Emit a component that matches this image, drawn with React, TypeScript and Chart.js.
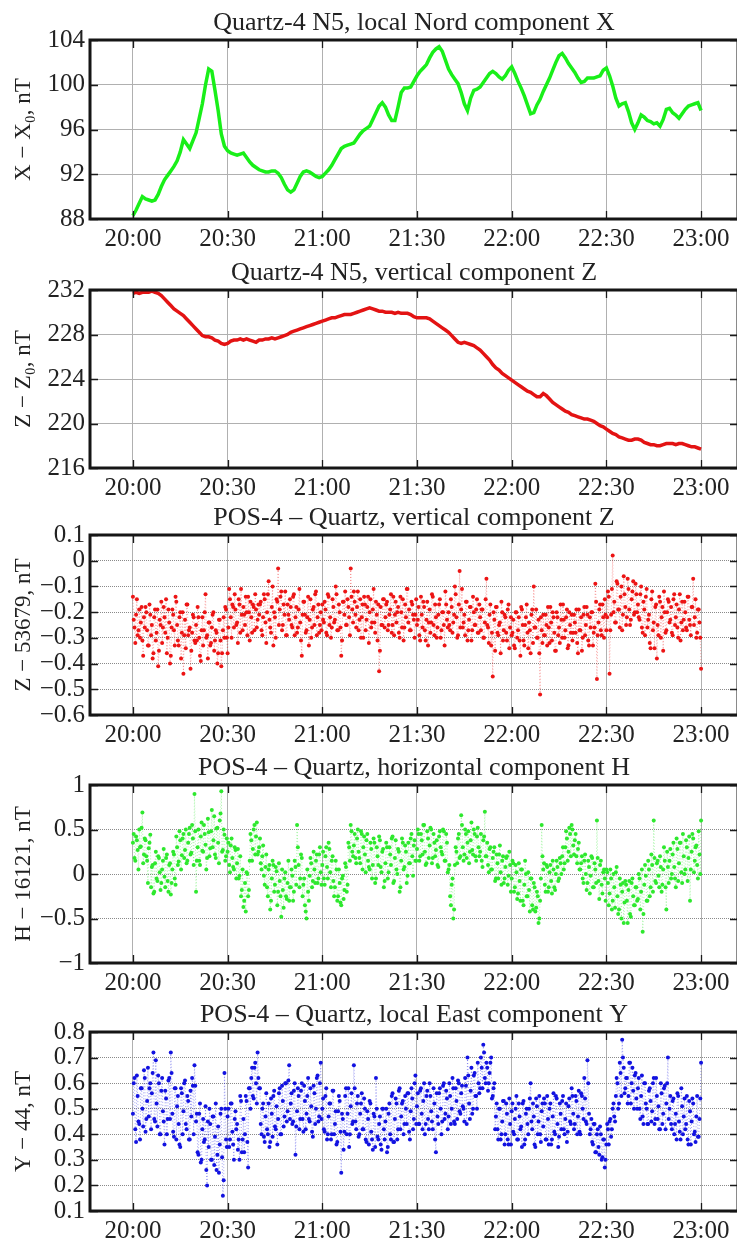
import React, { useEffect, useRef } from 'react';
import { Chart, registerables } from 'chart.js';
Chart.register(...registerables);

const FONT = '"Liberation Serif", "Times New Roman", "DejaVu Serif", serif';

// ---- time axis (minutes after 20:00) ----
const X_TICK_MINUTES = [0, 30, 60, 90, 120, 150, 180];
const X_TICK_LABELS = ['20:00', '20:30', '21:00', '21:30', '22:00', '22:30', '23:00'];

// ---- panel 1: Quartz-4 N5, X (one value per minute, 20:00..23:00) ----
const quartzX = [
  88.3, 88.8, 89.4, 90.0, 89.8, 89.7, 89.6, 89.7, 90.2, 90.9,
  91.5, 91.9, 92.3, 92.7, 93.2, 94.0, 95.1, 94.7, 94.3, 95.0,
  95.7, 97.0, 98.3, 100.0, 101.4, 101.2, 99.5, 97.7, 95.6, 94.5,
  94.1, 93.9, 93.8, 93.7, 93.8, 93.9, 93.5, 93.1, 92.8, 92.6,
  92.4, 92.3, 92.2, 92.2, 92.3, 92.3, 92.1, 91.7, 91.1, 90.6,
  90.4, 90.6, 91.2, 91.8, 92.2, 92.3, 92.2, 92.0, 91.8, 91.7,
  91.8, 92.1, 92.4, 92.8, 93.3, 93.8, 94.3, 94.5, 94.6, 94.7,
  94.8, 95.2, 95.6, 95.9, 96.1, 96.3, 96.9, 97.5, 98.1, 98.4,
  98.0, 97.3, 96.8, 96.8, 98.0, 99.3, 99.7, 99.7, 99.8, 100.3,
  100.8, 101.2, 101.5, 101.8, 102.4, 102.9, 103.2, 103.4, 103.0, 102.2,
  101.4, 100.9, 100.5, 100.1, 99.3, 98.3, 97.7, 98.8, 99.5, 99.6,
  99.8, 100.2, 100.6, 101.0, 101.2, 101.0, 100.7, 100.5, 100.8, 101.3,
  101.6, 101.0, 100.3, 99.7, 99.0, 98.2, 97.4, 97.5, 98.2, 98.7,
  99.4, 100.0, 100.6, 101.3, 102.0, 102.6, 102.8, 102.4, 101.9, 101.5,
  101.1, 100.6, 100.2, 100.3, 100.6, 100.6, 100.6, 100.7, 100.8, 101.3,
  101.5, 100.8, 99.9, 98.8, 98.1, 98.3, 98.4, 97.6, 96.6, 96.0,
  96.6, 97.3, 97.1, 96.8, 96.7, 96.5, 96.6, 96.3, 96.9, 97.8,
  97.9, 97.5, 97.3, 97.0, 97.4, 97.8, 98.1, 98.2, 98.3, 98.4,
  97.7,
];

// ---- panel 2: Quartz-4 N5, Z (one value per minute) ----
const quartzZ = [
  231.7, 231.8, 231.7, 231.8, 231.8, 231.8, 231.9, 231.8, 231.7, 231.5,
  231.2, 230.9, 230.6, 230.3, 230.1, 229.9, 229.7, 229.4, 229.1, 228.8,
  228.5, 228.2, 227.9, 227.8, 227.8, 227.7, 227.5, 227.4, 227.2, 227.1,
  227.2, 227.4, 227.5, 227.5, 227.6, 227.5, 227.6, 227.5, 227.4, 227.3,
  227.5, 227.5, 227.6, 227.6, 227.7, 227.6, 227.7, 227.8, 227.9, 228.0,
  228.2, 228.3, 228.4, 228.5, 228.6, 228.7, 228.8, 228.9, 229.0, 229.1,
  229.2, 229.3, 229.4, 229.5, 229.5, 229.6, 229.7, 229.8, 229.8, 229.8,
  229.9, 230.0, 230.1, 230.2, 230.3, 230.4, 230.3, 230.2, 230.1, 230.1,
  230.0, 230.0, 230.0, 229.9, 230.0, 229.9, 229.9, 229.9, 229.8, 229.6,
  229.5, 229.5, 229.5, 229.5, 229.4, 229.2, 229.0, 228.8, 228.6, 228.4,
  228.2, 227.9, 227.6, 227.3, 227.2, 227.3, 227.2, 227.1, 227.0, 226.8,
  226.6, 226.3, 226.0, 225.7, 225.3, 225.0, 224.8, 224.5, 224.3, 224.1,
  223.9, 223.7, 223.5, 223.3, 223.1, 222.9, 222.8, 222.6, 222.4, 222.4,
  222.7, 222.5, 222.2, 221.9, 221.7, 221.5, 221.3, 221.1, 221.0, 220.8,
  220.7, 220.6, 220.5, 220.4, 220.4, 220.3, 220.2, 220.0, 219.8, 219.7,
  219.5, 219.3, 219.1, 219.0, 218.8, 218.7, 218.6, 218.5, 218.5, 218.6,
  218.6, 218.5, 218.3, 218.2, 218.1, 218.1, 218.0, 218.0, 218.1, 218.2,
  218.2, 218.2, 218.1, 218.2, 218.2, 218.1, 218.0, 217.9, 217.9, 217.8,
  217.7,
];

// ---- panel 3: POS-4 - Quartz, Z ----
// samples on the half minute (20:00:00, 20:00:30, ...)
const posZ = [
  -.14,-.26,-.21,-.29,-.19,-.24,-.31,-.22,-.18,-.27,-.33,-.21,-.25,-.36,-.19,-.28,-.41,-.23,-.16,-.26,
  -.22,-.15,-.30,-.24,-.37,-.19,-.27,-.14,-.25,-.33,-.20,-.28,-.44,-.23,-.17,-.29,-.26,-.35,-.21,-.31,
  -.25,-.18,-.30,-.39,-.22,-.27,-.13,-.29,-.24,-.33,-.26,-.20,-.31,-.28,-.36,-.23,-.41,-.27,-.30,-.19,
  -.36,-.11,-.22,-.17,-.26,-.19,-.24,-.15,-.28,-.21,-.18,-.25,-.20,-.14,-.31,-.22,-.17,-.27,-.19,-.23,
  -.21,-.16,-.29,-.13,-.24,-.20,-.08,-.26,-.18,-.33,-.22,-.15,-.03,-.19,-.12,-.25,-.21,-.29,-.17,-.23,
  -.18,-.26,-.13,-.22,-.28,-.19,-.24,-.37,-.16,-.21,-.27,-.14,-.23,-.30,-.19,-.25,-.12,-.22,-.28,-.20,
  -.17,-.24,-.19,-.29,-.14,-.22,-.26,-.18,-.23,-.13,-.27,-.20,-.37,-.16,-.21,-.25,-.15,-.22,-.03,-.19,
  -.12,-.21,-.18,-.27,-.15,-.22,-.30,-.17,-.23,-.14,-.20,-.26,-.19,-.24,-.16,-.31,-.43,-.18,-.25,-.15,
  -.22,-.16,-.25,-.19,-.28,-.14,-.21,-.24,-.18,-.30,-.20,-.15,-.26,-.22,-.11,-.19,-.27,-.17,-.23,-.21,
  -.25,-.18,-.31,-.21,-.16,-.27,-.23,-.33,-.19,-.24,-.14,-.29,-.22,-.26,-.17,-.30,-.20,-.25,-.12,-.23,
  -.20,-.27,-.18,-.24,-.10,-.22,-.29,-.04,-.19,-.26,-.21,-.16,-.31,-.23,-.18,-.27,-.20,-.25,-.15,-.28,
  -.22,-.19,-.30,-.24,-.07,-.26,-.21,-.33,-.45,-.23,-.18,-.28,-.25,-.36,-.20,-.27,-.22,-.31,-.17,-.26,
  -.29,-.23,-.34,-.20,-.27,-.31,-.18,-.25,-.33,-.22,-.28,-.24,-.36,-.19,-.10,-.26,-.30,-.23,-.52,-.27,
  -.21,-.29,-.25,-.18,-.32,-.24,-.20,-.28,-.35,-.22,-.26,-.17,-.30,-.23,-.27,-.19,-.33,-.25,-.21,-.28,
  -.24,-.19,-.36,-.27,-.22,-.30,-.18,-.25,-.21,-.33,-.26,-.20,-.28,-.09,-.46,-.24,-.17,-.29,-.22,-.15,
  -.27,-.12,-.44,-.21,.02,-.16,-.24,-.09,-.19,-.14,-.27,-.06,-.18,-.22,-.11,-.25,-.15,-.08,-.20,-.13,
  -.17,-.23,-.10,-.28,-.19,-.14,-.26,-.21,-.34,-.12,-.24,-.18,-.38,-.29,-.16,-.22,-.35,-.20,-.27,-.15,
  -.24,-.18,-.29,-.13,-.22,-.26,-.19,-.31,-.16,-.23,-.20,-.27,-.14,-.25,-.18,-.07,-.22,-.30,-.19,-.24,
  -.42,
];
// samples between them (20:00:15, 20:00:45, ...)
const posZMid = [
  -.23,-.32,-.15,-.27,-.30,-.18,-.37,-.26,-.20,-.33,-.17,-.29,-.38,-.22,-.31,-.19,-.35,-.25,-.32,-.18,
  -.28,-.36,-.19,-.40,-.26,-.21,-.33,-.16,-.31,-.22,-.38,-.20,-.29,-.34,-.17,-.27,-.42,-.28,-.22,-.32,
  -.31,-.22,-.37,-.27,-.33,-.20,-.30,-.38,-.24,-.32,-.21,-.35,-.27,-.40,-.23,-.31,-.36,-.22,-.18,-.30,
  -.26,-.15,-.30,-.18,-.13,-.25,-.32,-.17,-.11,-.27,-.21,-.14,-.29,-.20,-.16,-.28,-.18,-.13,-.26,-.17,
  -.17,-.27,-.22,-.15,-.32,-.13,-.23,-.28,-.10,-.20,-.30,-.16,-.25,-.14,-.27,-.17,-.12,-.29,-.21,-.15,
  -.25,-.14,-.29,-.18,-.26,-.11,-.31,-.21,-.16,-.28,-.22,-.33,-.15,-.26,-.18,-.13,-.29,-.17,-.25,-.27,
  -.23,-.16,-.28,-.13,-.25,-.30,-.15,-.24,-.10,-.27,-.17,-.26,-.31,-.16,-.12,-.25,-.18,-.29,-.14,-.24,
  -.16,-.26,-.12,-.23,-.30,-.17,-.14,-.27,-.18,-.32,-.15,-.24,-.11,-.28,-.21,-.17,-.35,-.25,-.15,-.26,
  -.17,-.27,-.21,-.13,-.25,-.29,-.16,-.20,-.28,-.14,-.26,-.31,-.17,-.11,-.24,-.27,-.16,-.21,-.30,-.15,
  -.23,-.29,-.14,-.26,-.18,-.31,-.16,-.24,-.28,-.13,-.25,-.17,-.30,-.21,-.15,-.27,-.20,-.33,-.17,-.26,
  -.25,-.15,-.28,-.21,-.13,-.30,-.17,-.26,-.11,-.24,-.29,-.16,-.27,-.18,-.31,-.14,-.25,-.19,-.28,-.17,
  -.27,-.19,-.30,-.15,-.25,-.32,-.17,-.28,-.20,-.35,-.18,-.29,-.24,-.16,-.31,-.21,-.28,-.19,-.34,-.22,
  -.28,-.33,-.20,-.30,-.22,-.37,-.19,-.31,-.25,-.17,-.34,-.27,-.21,-.32,-.26,-.19,-.30,-.36,-.22,-.32,
  -.29,-.21,-.33,-.26,-.18,-.31,-.22,-.35,-.20,-.29,-.32,-.23,-.17,-.30,-.22,-.34,-.20,-.28,-.31,-.21,
  -.28,-.32,-.19,-.27,-.35,-.21,-.29,-.18,-.31,-.22,-.20,-.33,-.26,-.16,-.29,-.19,-.27,-.17,-.30,-.21,
  -.22,-.14,-.27,-.11,-.20,-.24,-.08,-.19,-.26,-.10,-.21,-.13,-.25,-.07,-.19,-.23,-.12,-.21,-.09,-.20,
  -.22,-.13,-.26,-.16,-.29,-.11,-.23,-.32,-.15,-.27,-.34,-.17,-.25,-.14,-.30,-.18,-.12,-.28,-.20,-.16,
  -.23,-.28,-.15,-.25,-.17,-.30,-.13,-.24,-.27,-.16,-.26,-.14,-.23,-.29,-.18,-.25,-.15,-.28,-.19,-.30,
];

// ---- panel 4: POS-4 - Quartz, H ----
const posH = [
  .35,.18,.42,.27,.50,.31,.69,.22,.38,.15,.29,.44,.08,-.22,.12,-.05,.20,.02,-.10,.15,
  -.03,.18,-.08,.10,-.23,.05,.22,-.12,.30,.14,.38,.21,.45,.27,.12,.35,.52,.24,.40,.90,
  -.20,.30,.15,.42,.26,.55,.33,.18,.47,.29,.72,.38,.22,.51,.35,.60,.93,.27,.44,.20,
  .25,.10,.32,.18,.05,.27,.12,-.05,.20,-.18,-.37,-.10,.02,-.25,.15,.38,.28,.55,.42,.22,
  .30,.12,.20,-.02,.08,-.15,.05,-.40,-.05,.10,-.12,.03,-.20,-.08,-.48,-.18,-.05,-.25,-.10,-.30,
  -.15,-.02,-.20,.08,.55,.10,-.05,.18,-.12,-.35,-.50,-.20,-.02,.12,-.08,.05,.15,-.10,.22,.02,
  .10,-.05,.20,.08,.35,.02,.15,-.08,-.15,.05,-.25,-.10,-.35,-.02,-.18,.08,-.12,.30,.55,.25,
  .32,.18,.40,.25,.12,.45,.30,.22,.38,.15,.05,.28,.10,.35,-.05,.20,.42,.08,.25,-.15,
  .12,.30,.02,.22,.40,-.10,.18,.05,.28,-.20,.15,.35,.08,.25,-.02,.12,.40,.20,.32,.15,
  .28,.45,.20,.38,.55,.25,.12,.40,.32,.50,.18,.35,.27,.10,.42,.30,.22,.48,.15,.35,
  .05,-.25,-.12,-.50,.10,.25,.40,.18,.66,.30,.22,.45,.35,.12,.38,.27,.50,.20,.42,.30,
  .25,.15,.38,.70,.20,.10,.28,.05,.18,.30,-.05,.12,.22,.02,.15,-.10,.08,.20,-.02,.10,
  -.05,.12,-.15,.02,-.22,-.08,.05,-.30,-.12,.00,-.25,-.18,-.05,-.35,-.10,-.42,-.20,-.55,-.30,.55,
  .05,-.12,.10,-.20,.02,-.08,.15,-.15,.00,.08,-.05,.12,.20,.05,.30,.40,.25,.45,.55,.32,
  .38,.20,.28,.05,.12,-.05,.15,.00,-.10,.08,-.02,.18,-.15,.05,.60,-.08,.10,-.12,.02,-.05,
  .05,-.10,-.22,-.05,-.30,-.15,.02,-.25,-.40,-.12,-.20,-.55,-.08,-.30,-.18,-.45,-.10,-.25,-.35,-.15,
  -.28,-.05,-.20,-.65,-.12,-.02,-.30,.05,-.15,.10,.60,-.08,.12,-.02,.20,-.20,.05,.15,-.40,.08,
  .15,-.05,.22,.08,-.15,.28,.12,.35,-.10,.20,.05,.30,.18,-.30,.25,.40,.15,.32,-.05,.22,
  .60,
];
const posHMid = [
  .45,.15,.38,.05,.30,.52,.12,.40,.20,-.10,.35,-.15,.10,-.20,.25,-.08,.18,-.18,.05,.28,
  -.15,.22,-.20,.12,-.10,.25,-.05,.42,.10,.48,.05,.40,.18,.50,.15,.45,.22,.55,.10,.48,
  .15,.50,.10,.58,.25,.45,.05,.62,.20,.48,.30,.65,.18,.52,.12,.68,.25,.50,.15,.40,
  .35,.02,.40,.08,.30,-.05,.28,-.02,-.25,.05,-.30,-.42,.00,-.18,.45,.15,.50,.22,.58,.25,
  .40,.05,.32,-.12,.22,-.25,.10,-.30,.15,-.20,.08,-.35,.12,-.25,.05,-.38,.02,-.28,.15,-.15,
  .05,-.30,.15,-.12,.30,-.15,.22,-.25,-.05,-.42,.05,-.30,.18,-.15,.25,-.10,.22,-.05,.30,-.12,
  .25,-.12,.30,-.05,.28,-.15,.20,-.25,.15,-.30,.05,-.32,-.05,-.28,.12,-.20,.35,.15,.48,.20,
  .45,.12,.50,.18,.48,.05,.42,.02,.45,.08,.35,-.05,.40,-.10,.30,.10,.38,.02,.28,-.08,
  .35,-.05,.30,.10,.42,-.08,.38,.00,.25,-.15,.40,.05,.32,-.10,.35,.12,.45,-.02,.38,.15,
  .50,.15,.45,.22,.55,.10,.48,.18,.52,.12,.45,.20,.38,.08,.48,.25,.50,.15,.45,.02,
  .10,-.35,-.05,-.40,.30,.12,.45,.20,.55,.15,.50,.18,.48,.25,.58,.22,.45,.15,.52,.20,
  .45,.08,.42,.20,.35,.02,.30,.05,.25,-.08,.22,-.05,.32,-.12,.20,-.05,.18,-.12,.25,-.20,
  .15,-.20,.10,-.28,.12,-.30,.05,-.35,.15,-.25,.02,-.42,-.05,-.40,-.15,-.38,-.25,-.50,-.05,.20,
  .12,-.20,.08,-.15,.10,-.22,.05,-.18,.15,-.08,.18,.00,.30,.12,.48,.15,.52,.20,.50,.22,
  .45,.12,.35,.05,.20,-.10,.22,-.18,.15,-.22,.20,-.15,.12,-.10,.18,-.28,.15,-.22,.05,-.30,
  .02,-.35,.05,-.40,.00,-.38,.08,-.45,-.05,-.50,-.10,-.32,-.12,-.55,-.08,-.48,-.05,-.35,-.15,-.30,
  .00,-.40,.05,-.45,.10,-.30,.15,-.25,.22,-.20,.18,-.10,.15,-.15,.08,-.12,.30,-.15,.25,-.10,
  .28,.00,.35,-.05,.40,-.08,.35,.02,.45,.00,.38,-.08,.42,.05,.45,.02,.30,.10,.48,.00,
];

// ---- panel 5: POS-4 - Quartz, Y ----
const posY = [
  .48,.62,.37,.55,.44,.58,.50,.65,.41,.53,.47,.60,.56,.72,.45,.52,.63,.40,.57,.49,
  .36,.54,.46,.62,.72,.48,.39,.58,.51,.44,.35,.56,.49,.61,.42,.53,.38,.47,.59,.67,
  .45,.33,.48,.29,.42,.37,.51,.20,.35,.44,.30,.47,.39,.26,.43,.36,.50,.16,.64,.38,
  .47,.35,.52,.41,.30,.49,.44,.38,.55,.33,.46,.40,.53,.27,.58,.62,.55,.66,.60,.72,
  .58,.44,.50,.39,.47,.42,.52,.37,.48,.55,.43,.51,.46,.58,.40,.53,.47,.60,.49,.67,
  .52,.44,.57,.32,.49,.55,.46,.60,.41,.53,.48,.62,.45,.51,.39,.56,.50,.63,.47,.68,
  .50,.42,.55,.38,.47,.52,.40,.57,.44,.36,.49,.53,.25,.46,.41,.58,.48,.35,.51,.44,
  .67,.45,.52,.39,.48,.56,.42,.50,.37,.46,.53,.41,.34,.47,.62,.39,.44,.36,.50,.42,
  .45,.33,.48,.40,.55,.37,.46,.52,.42,.58,.47,.53,.44,.50,.56,.41,.49,.54,.46,.63,
  .51,.44,.57,.48,.53,.40,.55,.46,.60,.49,.42,.52,.33,.47,.56,.50,.45,.60,.48,.54,
  .47,.55,.50,.58,.44,.53,.61,.49,.56,.51,.45,.59,.70,.52,.57,.48,.63,.55,.50,.60,
  .58,.66,.75,.62,.68,.57,.64,.70,.55,.60,.47,.42,.50,.38,.45,.53,.40,.48,.36,.44,
  .49,.41,.46,.55,.38,.47,.43,.52,.36,.48,.44,.50,.60,.42,.47,.35,.51,.45,.40,.49,
  .43,.52,.38,.46,.50,.36,.47,.41,.55,.44,.39,.48,.53,.42,.46,.37,.51,.45,.58,.48,
  .44,.53,.47,.41,.56,.50,.62,.45,.69,.48,.42,.37,.44,.33,.40,.35,.43,.30,.38,.27,
  .36,.42,.45,.39,.50,.47,.55,.60,.52,.64,.77,.66,.58,.62,.55,.68,.60,.57,.63,.54,
  .58,.50,.55,.47,.60,.52,.44,.57,.53,.49,.62,.46,.55,.51,.42,.56,.48,.59,.52,.70,
  .50,.44,.53,.40,.48,.56,.45,.38,.51,.47,.42,.55,.36,.49,.45,.52,.41,.47,.39,.46,
  .68,
];
const posYMid = [
  .60,.42,.63,.45,.38,.58,.43,.62,.46,.66,.58,.42,.64,.46,.69,.43,.60,.40,.62,.45,
  .57,.40,.61,.46,.64,.41,.58,.38,.55,.36,.58,.40,.60,.44,.55,.38,.57,.62,.40,.59,
  .48,.32,.52,.30,.46,.38,.26,.45,.50,.30,.47,.28,.52,.32,.25,.48,.31,.22,.50,.35,
  .50,.38,.52,.36,.46,.42,.34,.30,.53,.38,.33,.55,.37,.58,.50,.66,.54,.68,.52,.62,
  .58,.40,.52,.37,.56,.40,.35,.54,.39,.57,.42,.36,.56,.40,.59,.43,.60,.45,.61,.46,
  .56,.45,.60,.43,.58,.42,.57,.46,.59,.42,.55,.46,.58,.41,.59,.44,.62,.45,.60,.46,
  .54,.41,.58,.40,.52,.38,.57,.40,.49,.37,.55,.41,.48,.34,.55,.40,.58,.40,.56,.45,
  .58,.42,.55,.40,.52,.42,.54,.38,.49,.36,.52,.38,.48,.35,.50,.38,.47,.34,.50,.38,
  .50,.35,.52,.38,.56,.37,.54,.38,.57,.42,.52,.40,.55,.44,.56,.38,.58,.42,.60,.44,
  .56,.44,.58,.42,.60,.44,.57,.42,.55,.45,.58,.38,.56,.44,.58,.40,.59,.46,.57,.42,
  .60,.44,.62,.45,.58,.46,.60,.48,.59,.50,.62,.44,.63,.46,.66,.50,.64,.55,.68,.56,
  .70,.58,.72,.60,.66,.60,.68,.54,.58,.42,.52,.38,.50,.40,.53,.36,.52,.38,.54,.36,
  .52,.40,.50,.38,.52,.42,.35,.53,.38,.50,.40,.54,.45,.52,.36,.54,.40,.55,.37,.52,
  .54,.38,.55,.36,.52,.38,.56,.40,.54,.35,.52,.42,.55,.40,.52,.41,.54,.44,.55,.42,
  .55,.40,.57,.40,.55,.46,.54,.44,.60,.40,.46,.36,.44,.33,.42,.32,.40,.31,.38,.30,
  .44,.36,.46,.42,.52,.45,.62,.50,.68,.55,.70,.56,.62,.52,.68,.52,.66,.50,.64,.50,
  .62,.46,.63,.44,.60,.50,.44,.58,.45,.60,.44,.62,.46,.42,.60,.44,.58,.42,.60,.46,
  .55,.42,.54,.44,.38,.55,.41,.58,.40,.54,.44,.38,.53,.36,.54,.40,.37,.55,.39,.54,
];

// ---- y ticks ----
const yTicks1 = [88, 92, 96, 100, 104];
const yLabels1 = ['88', '92', '96', '100', '104'];
const yTicks2 = [216, 220, 224, 228, 232];
const yLabels2 = ['216', '220', '224', '228', '232'];
const yTicks3 = [-0.6, -0.5, -0.4, -0.3, -0.2, -0.1, 0, 0.1];
const yLabels3 = ['\u22120.6', '\u22120.5', '\u22120.4', '\u22120.3', '\u22120.2', '\u22120.1', '0', '0.1'];
const yTicks4 = [-1, -0.5, 0, 0.5, 1];
const yLabels4 = ['\u22121', '\u22120.5', '0', '0.5', '1'];
const yTicks5 = [0.1, 0.2, 0.3, 0.4, 0.5, 0.6, 0.7, 0.8];
const yLabels5 = ['0.1', '0.2', '0.3', '0.4', '0.5', '0.6', '0.7', '0.8'];

const CANVAS_W = 745;
const TITLE_BOX = 40;
const XAXIS_H = 35;
const YAXIS_W = 90;

type PanelSpec = {
  title: string;
  yTitle: string;
  values: number[];
  midValues: number[] | null;
  stepMin: number;
  yMin: number;
  yMax: number;
  yTicks: number[];
  yLabels: string[];
  color: string;
  kind: 'line' | 'dots';
  areaTop: number;
  areaBottom: number;
  dottedGrid: boolean;
};

const PANELS: PanelSpec[] = [
  { title: 'Quartz-4 N5, local Nord component X', yTitle: 'X \u2212 X\u2080, nT', values: quartzX, midValues: null, stepMin: 1,
    yMin: 88, yMax: 104, yTicks: yTicks1, yLabels: yLabels1, color: '#19ef19', kind: 'line', areaTop: 40, areaBottom: 219, dottedGrid: false },
  { title: 'Quartz-4 N5, vertical component Z', yTitle: 'Z \u2212 Z\u2080, nT', values: quartzZ, midValues: null, stepMin: 1,
    yMin: 216, yMax: 232, yTicks: yTicks2, yLabels: yLabels2, color: '#e31313', kind: 'line', areaTop: 290, areaBottom: 468, dottedGrid: false },
  { title: 'POS-4 \u2013 Quartz, vertical component Z', yTitle: 'Z \u2212 53679, nT', values: posZ, midValues: posZMid, stepMin: 0.5,
    yMin: -0.6, yMax: 0.1, yTicks: yTicks3, yLabels: yLabels3, color: '#ec1414', kind: 'dots', areaTop: 535, areaBottom: 715, dottedGrid: true },
  { title: 'POS-4 \u2013 Quartz, horizontal component H', yTitle: 'H \u2212 16121, nT', values: posH, midValues: posHMid, stepMin: 0.5,
    yMin: -1, yMax: 1, yTicks: yTicks4, yLabels: yLabels4, color: '#2ee82e', kind: 'dots', areaTop: 785, areaBottom: 963, dottedGrid: true },
  { title: 'POS-4 \u2013 Quartz, local East component Y', yTitle: 'Y \u2212 44, nT', values: posY, midValues: posYMid, stepMin: 0.5,
    yMin: 0.1, yMax: 0.8, yTicks: yTicks5, yLabels: yLabels5, color: '#1212e0', kind: 'dots', areaTop: 1032, areaBottom: 1211, dottedGrid: true },
];

const framePlugin = {
  id: 'frame',
  afterDraw(chart: any) {
    const { ctx, chartArea: a, scales } = chart;
    ctx.save();
    ctx.strokeStyle = '#1a1a1a';
    ctx.lineWidth = 1.3;
    const tl = 8;
    ctx.beginPath();
    scales.x.ticks.forEach((t: any) => {
      const px = Math.round(scales.x.getPixelForValue(t.value)) + 0.5;
      ctx.moveTo(px, a.top);
      ctx.lineTo(px, a.top + tl);
      ctx.moveTo(px, a.bottom);
      ctx.lineTo(px, a.bottom - tl);
    });
    scales.y.ticks.forEach((t: any) => {
      const py = Math.round(scales.y.getPixelForValue(t.value)) + 0.5;
      ctx.moveTo(a.left, py);
      ctx.lineTo(a.left + tl, py);
      ctx.moveTo(a.right, py);
      ctx.lineTo(a.right - tl, py);
    });
    ctx.stroke();
    ctx.lineWidth = 3;
    ctx.strokeStyle = '#151515';
    ctx.strokeRect(a.left, a.top, a.right - a.left, a.bottom - a.top);
    ctx.restore();
  },
};

function buildPoints(p: PanelSpec) {
  const pts: { x: number; y: number }[] = [];
  p.values.forEach((v, i) => {
    pts.push({ x: i * p.stepMin, y: v });
    if (p.midValues && i < p.midValues.length) {
      pts.push({ x: i * p.stepMin + p.stepMin / 2, y: p.midValues[i] });
    }
  });
  return pts;
}

function buildConfig(p: PanelSpec): any {
  const points = buildPoints(p);
  const dataset: any =
    p.kind === 'line'
      ? { data: points, borderColor: p.color, borderWidth: 3.5, pointRadius: 0, tension: 0 }
      : {
          data: points,
          borderColor: p.color + '88',
          borderWidth: 0.7,
          borderDash: [1, 2],
          pointRadius: 2,
          pointBackgroundColor: p.color,
          pointBorderWidth: 0,
          tension: 0,
        };
  return {
    type: 'line',
    data: { datasets: [dataset] },
    options: {
      animation: false,
      responsive: false,
      maintainAspectRatio: false,
      devicePixelRatio: 1,
      events: [],
      layout: { padding: { left: 0, right: 7, top: 0, bottom: 0 } },
      plugins: {
        legend: { display: false },
        tooltip: { enabled: false },
        title: {
          display: true,
          text: p.title,
          fullSize: false,
          color: '#222',
          font: { family: FONT, size: 26, weight: 'normal', lineHeight: 1.2 },
          padding: { top: 8, bottom: 0.8 },
        },
      },
      scales: {
        x: {
          type: 'linear',
          min: -13.6,
          max: 191.7,
          afterBuildTicks: (s: any) => {
            s.ticks = X_TICK_MINUTES.map((v) => ({ value: v }));
          },
          afterFit: (s: any) => {
            s.height = XAXIS_H;
          },
          ticks: {
            callback: (_v: any, i: number) => X_TICK_LABELS[i],
            font: { family: FONT, size: 25, lineHeight: 1.2 },
            color: '#222',
            padding: 5,
            maxRotation: 0,
            autoSkip: false,
          },
          grid: { color: '#b0b0b0', lineWidth: 1, drawTicks: false },
          border: { display: false },
        },
        y: {
          type: 'linear',
          min: p.yMin,
          max: p.yMax,
          afterBuildTicks: (s: any) => {
            s.ticks = p.yTicks.map((v) => ({ value: v }));
          },
          afterFit: (s: any) => {
            s.width = YAXIS_W;
          },
          ticks: {
            callback: (_v: any, i: number) => p.yLabels[i],
            font: { family: FONT, size: 25, lineHeight: 1.2 },
            color: '#222',
            padding: 5,
            autoSkip: false,
          },
          title: {
            display: true,
            text: p.yTitle,
            color: '#222',
            font: { family: FONT, size: 23, lineHeight: 1.2 },
            padding: { top: 10, bottom: 0 },
          },
          grid: p.dottedGrid
            ? { color: '#8a8a8a', lineWidth: 1, drawTicks: false }
            : { color: '#b0b0b0', lineWidth: 1, drawTicks: false },
          border: { display: false, dash: p.dottedGrid ? [1, 1] : [] },
        },
      },
    },
    plugins: [framePlugin],
  };
}

function Panel({ spec }: { spec: PanelSpec }) {
  const ref = useRef<HTMLCanvasElement>(null);
  const top = spec.areaTop - TITLE_BOX;
  const h = spec.areaBottom + XAXIS_H - top;
  useEffect(() => {
    const chart = new Chart(ref.current as HTMLCanvasElement, buildConfig(spec));
    return () => chart.destroy();
  }, []);
  return (
    <canvas
      ref={ref}
      width={CANVAS_W}
      height={h}
      style={{ position: 'absolute', left: 0, top, width: CANVAS_W, height: h, display: 'block' }}
    />
  );
}

export default function App() {
  return (
    <div
      style={{
        position: 'absolute',
        left: 0,
        top: 0,
        width: 737,
        height: 1241,
        overflow: 'hidden',
        background: '#fff',
      }}
    >
      {PANELS.map((p, i) => (
        <Panel key={i} spec={p} />
      ))}
    </div>
  );
}
